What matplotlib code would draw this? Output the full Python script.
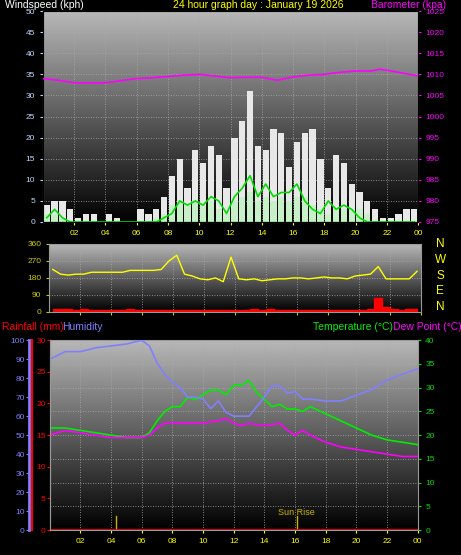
import matplotlib
matplotlib.use("Agg")
import matplotlib.pyplot as plt
import numpy as np

# half-hour samples, 0.0 .. 23.5 h
HALF_HOURS = np.arange(0, 24, 0.5)
GUST = [4, 5, 5, 3, 1, 2, 2, 0, 2, 1, 0, 0, 3, 2, 3, 6,
        11, 15, 8, 17, 14, 18, 16, 8, 20, 24, 31, 18, 17, 22, 21, 13,
        19, 21, 22, 15, 8, 16, 14, 9, 7, 5, 3, 1, 1, 2, 3, 3]
AVG_BAR = [2, 2, 1, 0, 0, 0, 0, 0, 0, 0, 0, 0, 0, 0, 1, 2,
           4, 5, 4, 5, 4, 5, 3, 2, 5, 6, 7, 5, 6, 5, 6, 5,
           6, 6, 4, 3, 2, 3, 3, 3, 3, 2, 0, 0, 0, 0, 0, 0]
AVG_LINE = [1, 3, 1, 0, 0, 0, 0, 0, 0, 0, 0, 0, 0, 0, 0, 1,
            2, 5, 4, 5, 4, 6, 5, 2, 6, 8, 11, 6, 9, 6, 7, 7,
            9, 5, 3, 2, 5, 3, 4, 3, 1, 0, 0, 0, 0, 0, 0, 0]

BARO_HOURS = [0, 1, 2, 3, 4, 5, 6, 7, 8, 9, 10, 11, 12, 13, 14, 15, 16, 17, 18, 19, 20, 21, 21.5, 22, 23, 24]
BARO = [1009, 1008.6, 1008, 1008, 1008, 1008.5, 1009, 1009.2, 1009.5, 1009.8, 1010, 1009.6, 1009.2,
        1009.3, 1009.3, 1008.6, 1009.4, 1009.8, 1010, 1010.5, 1010.8, 1010.8, 1011.2, 1011, 1010.3, 1009.6]

DIRECTION = [225, 200, 195, 200, 200, 210, 210, 210, 210, 210, 220, 220, 220, 220, 225, 270,
             300, 200, 190, 175, 170, 180, 160, 290, 175, 170, 175, 165, 170, 175, 175, 180,
             180, 175, 180, 185, 180, 180, 175, 190, 195, 200, 240, 175, 175, 175, 175, 215]
SPEED_RED = [14, 18, 14, 12, 14, 12, 10, 10, 10, 12, 14, 10, 8, 8, 8, 8,
             8, 8, 8, 8, 8, 8, 8, 10, 12, 10, 14, 10, 14, 10, 10, 10,
             10, 10, 10, 8, 8, 10, 8, 10, 10, 14, 75, 25, 14, 12, 16, 14]

CLIMATE_HOURS = [0, 1, 2, 3, 4, 5, 6, 6.5, 7, 7.5, 8, 8.5, 9, 9.5, 10, 10.5, 11, 11.5, 12, 12.5,
                 13, 13.5, 14, 14.5, 15, 15.5, 16, 16.5, 17, 18, 19, 20, 21, 22, 23, 24]
HUMIDITY = [90, 94, 94, 96, 97, 98, 100, 97, 88, 82, 78, 75, 70, 70, 69, 64, 68, 62, 60, 60,
            60, 65, 70, 76, 76, 72, 73, 69, 69, 68, 68, 71, 74, 79, 82, 85]
TEMPERATURE = [21.5, 21.5, 21, 20.5, 20, 19.5, 19.5, 20.5, 23, 25, 26, 26, 28, 27.5, 28.5, 29.5,
               29.5, 28.5, 30.5, 30.5, 31.5, 29, 27.5, 26, 26.5, 25.5, 25.5, 25, 26, 24.5, 23,
               21.5, 20, 19, 18.5, 18]
DEW_POINT = [20, 21, 20.5, 20, 19.5, 19.5, 19.5, 20, 21.5, 22.5, 22.5, 22.5, 22.5, 22.5, 22.5, 22.8,
             23, 23.5, 22.5, 22, 22.5, 22.2, 22, 22.2, 22.5, 21, 20, 21, 20, 18.5, 17.5, 17, 16.5,
             16, 15.5, 15.5]
SUN_EVENTS = [4.3, 16.1]

TIME_TICKS = list(range(2, 25, 2))
TIME_LABELS = [f"{h % 24:02d}" for h in TIME_TICKS]

YEL = "#ffff00"
plt.rcParams["font.family"] = ["Liberation Sans", "DejaVu Sans"]
plt.rcParams["font.size"] = 6


def background(ax, ymax):
    grad = np.linspace(0.72, 0.0, 256).reshape(-1, 1)
    ax.imshow(grad, cmap="gray", vmin=0, vmax=1, aspect="auto",
              extent=[0, 24, 0, ymax], origin="upper", zorder=0)
    ax.grid(True, color="#aaaaaa", linestyle=(0, (1, 2)), linewidth=0.6, zorder=1)
    ax.set_facecolor("black")
    for s in ax.spines.values():
        s.set_color("#999999")


fig = plt.figure(figsize=(4.61, 5.55), dpi=100, facecolor="black")

# ---- wind / barometer ----
ax1 = fig.add_axes([0.093, 0.6, 0.814, 0.38])
background(ax1, 50)
ax1.bar(HALF_HOURS + 0.25, GUST, width=0.4, color="#e8e8e8", zorder=2)
ax1.bar(HALF_HOURS + 0.25, AVG_BAR, width=0.4, color="#c8f0c8", zorder=3)
ax1.plot(HALF_HOURS + 0.25, AVG_LINE, color="#00dd00", lw=1.2, zorder=4)
ax1.plot([0, 24], [0, 0], color="#00cc00", lw=1, zorder=4)
ax1.set_xlim(0, 24)
ax1.set_ylim(0, 50)
ax1.set_yticks(range(0, 51, 5))
ax1.set_xticks(TIME_TICKS, TIME_LABELS)
ax1.tick_params(colors="#c0d8ff", labelsize=6, length=2)
ax1.tick_params(axis="x", colors=YEL)
ax1b = ax1.twinx()
ax1b.plot(BARO_HOURS, BARO, color="#ff00ff", lw=1.2, zorder=5)
ax1b.set_ylim(975, 1025)
ax1b.set_yticks(range(975, 1026, 5))
ax1b.tick_params(colors="#ff00ff", labelsize=6, length=2)
fig.text(0.01, 0.985, "Windspeed (kph)", color="white", fontsize=7.5)
fig.text(0.375, 0.985, "24 hour graph day : January 19 2026", color=YEL, fontsize=7.5)
fig.text(0.805, 0.985, "Barometer (kpa)", color="#ff00ff", fontsize=7.5)

# ---- direction ----
ax2 = fig.add_axes([0.106, 0.438, 0.807, 0.1225])
background(ax2, 360)
ax2.fill_between(HALF_HOURS + 0.25, SPEED_RED, color="#ff0000", step="mid", zorder=2)
ax2.plot(HALF_HOURS + 0.25, DIRECTION, color=YEL, lw=1, zorder=3)
ax2.set_xlim(0, 24)
ax2.set_ylim(0, 360)
ax2.set_yticks([0, 90, 180, 270, 360])
ax2.set_xticks(TIME_TICKS, [])
ax2.tick_params(colors="#cccc00", labelsize=6, length=2)
for i, c in enumerate("NWSEN"):
    fig.text(0.955, 0.555 - i * 0.0285, c, color=YEL, fontsize=8.5, ha="center")

# ---- humidity / temperature ----
ax3 = fig.add_axes([0.108, 0.045, 0.798, 0.342])
background(ax3, 40)
ax3.set_xlim(0, 24)
ax3.set_ylim(0, 40)
ax3.set_xticks(TIME_TICKS, TIME_LABELS)
ax3.tick_params(axis="x", colors=YEL, labelsize=6, length=2)
ax3.plot(CLIMATE_HOURS, TEMPERATURE, color="#00ee00", lw=1.2, zorder=4)
ax3.plot(CLIMATE_HOURS, DEW_POINT, color="#ff00ff", lw=1.2, zorder=4)
for t in SUN_EVENTS:
    ax3.plot([t, t], [0, 3], color="#c8b400", lw=1, zorder=5)
ax3.text(SUN_EVENTS[1], 3.2, "Sun Rise", color="#c8b400", fontsize=6.5, ha="center")
ax3.plot([0, 24], [0.1, 0.1], color="#ff0000", lw=2, zorder=5)

ax3h = ax3.twinx()
ax3h.plot(CLIMATE_HOURS, HUMIDITY, color="#8080ff", lw=1.2, zorder=3)
ax3h.set_ylim(0, 100)
ax3h.yaxis.tick_left()
ax3h.spines["left"].set_position(("outward", 15))
ax3h.spines["left"].set_color("#8080ff")
ax3h.spines["left"].set_linewidth(2)
ax3h.set_yticks(range(0, 101, 10))
ax3h.tick_params(axis="y", colors="#8080ff", labelsize=6, length=2, pad=1)

ax3r = ax3.twinx()
ax3r.set_ylim(0, 30)
ax3r.yaxis.tick_left()
ax3r.spines["left"].set_color("#999999")
ax3r.set_yticks(range(0, 31, 5))
ax3r.tick_params(axis="y", colors="#ff0000", labelsize=6, length=2, pad=1)
for a in (ax3h, ax3r):
    for s in ("top", "right", "bottom"):
        a.spines[s].set_visible(False)

# temperature scale on the right (set after twinx, which resets ticks)
ax3.yaxis.tick_right()
ax3.set_yticks(range(0, 41, 5))
ax3.tick_params(axis="y", colors="#00dd00", labelsize=6, length=2)

# red rainfall scale bar beside the humidity bar
fig.add_artist(plt.Line2D([32 / 461, 32 / 461], [0.045, 0.387], color="#ff0000", lw=1.5))

fig.text(0.005, 0.405, "Rainfall (mm)", color="#ff0000", fontsize=7.5)
fig.text(0.135, 0.405, "Humidity", color="#8080ff", fontsize=7.5)
fig.text(0.679, 0.405, "Temperature (°C)", color="#00ee00", fontsize=7.5)
fig.text(0.852, 0.405, "Dew Point (°C)", color="#ff00ff", fontsize=7.5)

fig.savefig("out.png", dpi=100, facecolor="black")
